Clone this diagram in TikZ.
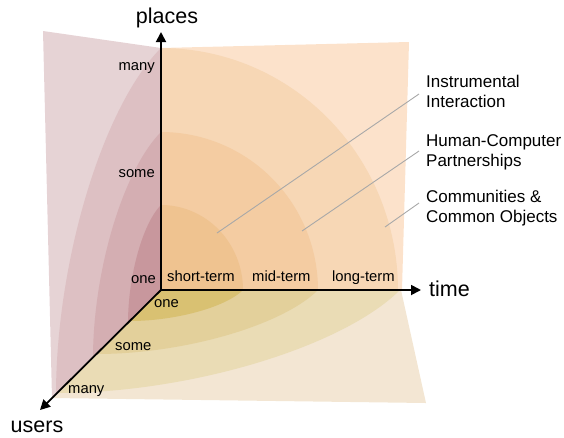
\documentclass[tikz,border=0pt]{standalone}
\usepackage{fontspec}
\setmainfont{Liberation Sans}
\usetikzlibrary{arrows.meta}
\definecolor{backW}{HTML}{FCE2CB}
\definecolor{backA}{HTML}{F7D7B5}
\definecolor{backB}{HTML}{F4CCA2}
\definecolor{backC}{HTML}{EFC390}
\definecolor{sideW}{HTML}{E6D3D5}
\definecolor{sideA}{HTML}{DDC0C3}
\definecolor{sideB}{HTML}{D4AEB2}
\definecolor{sideC}{HTML}{C8979D}
\definecolor{floorW}{HTML}{F3E6D3}
\definecolor{floorA}{HTML}{EADCB5}
\definecolor{floorB}{HTML}{E3D09B}
\definecolor{floorC}{HTML}{D9C172}
\definecolor{leader}{HTML}{A8A8A8}
\newcommand\backregion[3]{\fill[#3] (161,290) -- plot[domain=0:90,samples=50] ({161+#1*cos(\x)},{290-#2*sin(\x)}) -- cycle;}
\newcommand\floorregion[3]{\fill[#3] (161,290) -- plot[domain=0:90,samples=50] ({161+#1*cos(\x)-#2*sin(\x)},{290+#2*sin(\x)}) -- cycle;}
\newcommand\sideregion[3]{\fill[#3] (161,290) -- plot[domain=0:90,samples=50] ({161-#2*sin(\x)},{290-#1*cos(\x)+#2*sin(\x)}) -- cycle;}
\tikzset{
  axisline/.style={line width=1.8pt,-{Triangle[length=10pt,width=10pt]}},
  axislabel/.style={font=\fontsize{21.5}{26}\selectfont,inner sep=0pt},
  ticklabel/.style={font=\fontsize{14.8}{18}\selectfont,inner sep=0pt},
  legendtext/.style={font=\fontsize{17}{20}\selectfont,inner sep=0pt,align=left,anchor=base west},
  leaderline/.style={draw=leader,line width=0.9pt}
}
\begin{document}
\begin{tikzpicture}[x=1pt,y=-1pt]
\useasboundingbox (0,0) rectangle (564,437);
% back wall (places-time)
\fill[backW] (161,48) -- (409,42) -- (402,290) -- (161,290) -- cycle;
\backregion{237}{242}{backA}
\backregion{157}{158}{backB}
\backregion{82}{85}{backC}
% floor (time-users)
\fill[floorW] (161,290) -- (401,290) -- (426,403) -- (52,398) -- cycle;
\floorregion{239}{103}{floorA}
\floorregion{157}{64}{floorB}
\floorregion{82}{31}{floorC}
% side wall (places-users)
\fill[sideW] (43,31) -- (161,48) -- (161,290) -- (52,398) -- cycle;
\sideregion{242}{105}{sideA}
\sideregion{158}{68}{sideB}
\sideregion{85}{33}{sideC}
% axes
\coordinate (O) at (161,290);
\coordinate (P) at (161,32);
\coordinate (T) at (421,290);
\coordinate (U) at (40,410);
\draw[axisline] (O) -- (P);
\draw[axisline] (O) -- (T);
\draw[axisline] (O) -- (U);
\node[axislabel,anchor=base] (places) at (167,23) {places};
\node[axislabel,anchor=base west] (time) at (429,296) {time};
\node[axislabel,anchor=base] (users) at (37,432) {users};
% places ticks
\node[ticklabel,anchor=base east] (pmany) at (155,70) {many};
\node[ticklabel,anchor=base east] (psome) at (155,177) {some};
\node[ticklabel,anchor=base east] (pone) at (156,283) {one};
% time ticks
\node[ticklabel,anchor=base west] (tshort) at (167,281) {short-term};
\node[ticklabel,anchor=base west] (tmid) at (252,281) {mid-term};
\node[ticklabel,anchor=base west] (tlong) at (332,281) {long-term};
% users ticks
\node[ticklabel,anchor=base west] (uone) at (154,307) {one};
\node[ticklabel,anchor=base west] (usome) at (115,350) {some};
\node[ticklabel,anchor=base west] (umany) at (68,393) {many};
% legend
\node[legendtext] (inst) at (426,107) {Instrumental\\Interaction};
\node[legendtext] (hcp) at (426,166) {Human-Computer\\Partnerships};
\node[legendtext] (comm) at (426,222) {Communities \&\\Common Objects};
\coordinate (l1s) at (419,94);
\coordinate (l1e) at (217,233);
\coordinate (l2s) at (419,151);
\coordinate (l2e) at (302,231);
\coordinate (l3s) at (419,203);
\coordinate (l3e) at (385,227);
\draw[leaderline] (l1s) -- (l1e);
\draw[leaderline] (l2s) -- (l2e);
\draw[leaderline] (l3s) -- (l3e);
\end{tikzpicture}
\end{document}
